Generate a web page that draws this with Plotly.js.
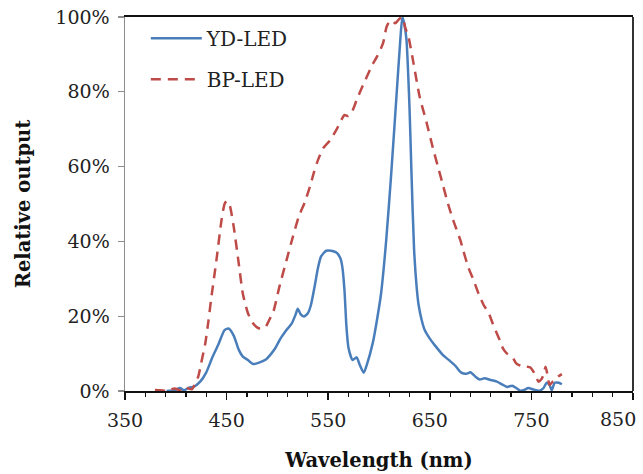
<!DOCTYPE html>
<html>
<head>
<meta charset="utf-8">
<script src="https://cdn.plot.ly/plotly-3.0.1.min.js"></script>
<style>html,body{margin:0;padding:0;background:#fff}#chart{width:643px;height:474px}</style>
</head>
<body>
<div id="chart"></div>
<script>
// YD-LED spectrum (wavelength nm, relative output %)
const ydWavelength = [391,399,404,408,413,418,424,430,436,442,448,452,457,462,466,471,476,482,489,494,498,503,508,514,518,520,523,526,530,533,537,540,543,548,553,558,562,564,566,568,570,574,578,581,585,588,594,598,602,607,612,617,621,623,625,627,630,632,634.5,637,639,642,645,650,655,663,670,675,681,686,690,695,699,704,709,716,721,726,731,735,739,743,747,752,758,762,765,768,770,773,777,780];
const ydOutput = [0,0.2,0.8,0.2,0.9,1.2,2.5,5,9,12.5,16.3,16.7,14.8,11,9.2,8.3,7.2,7.6,8.5,10,11.5,14,16,18,20.5,22,20.5,19.9,20.8,23,28.5,33,36,37.5,37.5,37,35.5,33,27,17,11.5,8.3,9,7,4.9,7,13,19,26,40,58,78,94,100,98,94,76,58,38,28,23,19,16.3,14,12.2,9.6,8,6.8,4.9,4.6,5,3.8,3.1,3.4,3,2.5,1.8,1.1,1.4,0.8,0.1,0.3,0.8,0.4,0.1,0.8,2.2,1.5,0.2,2.2,2.2,1.8];

// BP-LED spectrum
const bpWavelength = [379.5,385,391,395,399,404,409,413,416,419,422,425,429,432,435,440,445,448,450,453,457,462,466,471,476,480,483,488,492,496,502,509,515,521,527,532,536,540,545,552,558,563,566,570,574,578,583,588,593,598,604,607.5,611,613,616,620,623,626,629,634,640,647,653,658,663,668,673,680,683,688,693,698,703,708,712,716,719,722,726,731,735,740,745,749,752,755,757,760,762,764,766,768,771,773,776,780];
const bpOutput = [0.3,0.2,0,0.4,0.7,0.2,1.1,0.6,0.5,2,3.8,7.5,12.7,18.5,25,35,45.7,50,50.8,49.7,43.9,34,26,20.8,18.1,17,16.7,17,19,21.2,27.9,35,41,46.6,50.5,54.6,58.5,61.8,64.9,67.1,69.8,72.5,73.8,73.5,75,77.8,81,84,87,89.4,93,97.4,99,99,98.3,99.5,100,97,94.7,87.6,78.7,71.6,65,60,55,50,45.7,40.4,37.5,33,29.7,26,23,20.8,18,15.4,13.5,11.4,10,9.2,7.4,6.7,6.5,6.3,5.2,3.5,2.5,3.2,4.5,6.5,4,1.6,2.5,2.9,3.8,4.5];

const seriesNames = ["YD-LED", "BP-LED"];
const xTickVals = [350,450,550,650,750,850];
const xTickText = ["350","450","550","650","750",""];
const xLastTick = 850;
const yTickVals = [0,20,40,60,80,100];
const yTickText = ["0%","20%","40%","60%","80%","100%"];

const FONT = "DejaVu Serif, Liberation Serif, serif";

const traces = [
  {x: ydWavelength, y: ydOutput, name: seriesNames[0], type: "scatter", mode: "lines",
   legendgroup: "a",
   line: {color: "#4A7EBB", width: 2.5, shape: "spline", smoothing: 0.6}},
  {x: bpWavelength, y: bpOutput, name: seriesNames[1], type: "scatter", mode: "lines",
   legendgroup: "b",
   line: {color: "#BE4B48", width: 2.5, dash: "10px,7px", shape: "spline", smoothing: 0.6}}
];

const layout = {
  width: 643, height: 474,
  margin: {l: 125, r: 10, t: 17, b: 83, pad: 0},
  paper_bgcolor: "#fff", plot_bgcolor: "#fff",
  font: {family: FONT, size: 19, color: "#222"},
  showlegend: true,
  legend: {x: 0.041, y: 0.995, xanchor: "left", yanchor: "top", bgcolor: "rgba(0,0,0,0)",
           font: {family: FONT, size: 20, color: "#222"}, itemwidth: 51,
           traceorder: "grouped", tracegroupgap: 12},
  xaxis: {
    range: [350, 850], tickvals: xTickVals, ticktext: xTickText,
    showgrid: false, zeroline: false,
    showline: true, linecolor: "#111", linewidth: 2, mirror: true,
    ticks: "outside", ticklen: 7, tickwidth: 1.5, tickcolor: "#111",
    ticklabelstandoff: 4,
    minor: {dtick: 20, tick0: 350, ticks: "outside", ticklen: 4, tickwidth: 1.2, tickcolor: "#111", showgrid: false},
    tickfont: {family: FONT, size: 19, color: "#222"},
    title: {text: "<b>Wavelength (nm)</b>", font: {family: FONT, size: 19.5, color: "#111"}, standoff: 24}
  },
  yaxis: {
    range: [0, 100], tickvals: yTickVals, ticktext: yTickText,
    showgrid: false, zeroline: false,
    showline: true, linecolor: "#8c8c8c", linewidth: 1.5,
    ticks: "outside", ticklen: 6, tickwidth: 1.2, tickcolor: "#8c8c8c",
    ticklabelstandoff: 4,
    tickfont: {family: FONT, size: 19, color: "#222"},
    title: {text: "<b>Relative output</b>", font: {family: FONT, size: 19.5, color: "#111"}, standoff: 19}
  },
  annotations: [
    {text: String(xLastTick), xref: "x", x: xLastTick, yref: "paper", y: 0,
     xanchor: "right", yanchor: "top", xshift: 5, yshift: -15, showarrow: false,
     font: {family: FONT, size: 19, color: "#222"}}
  ],
  shapes: [
    {type: "line", xref: "paper", yref: "paper", x0: 1, x1: 1, y0: 0, y1: 1,
     line: {color: "#333", width: 2}}
  ]
};

Plotly.newPlot("chart", traces, layout, {displayModeBar: false, staticPlot: true});
</script>
</body>
</html>
